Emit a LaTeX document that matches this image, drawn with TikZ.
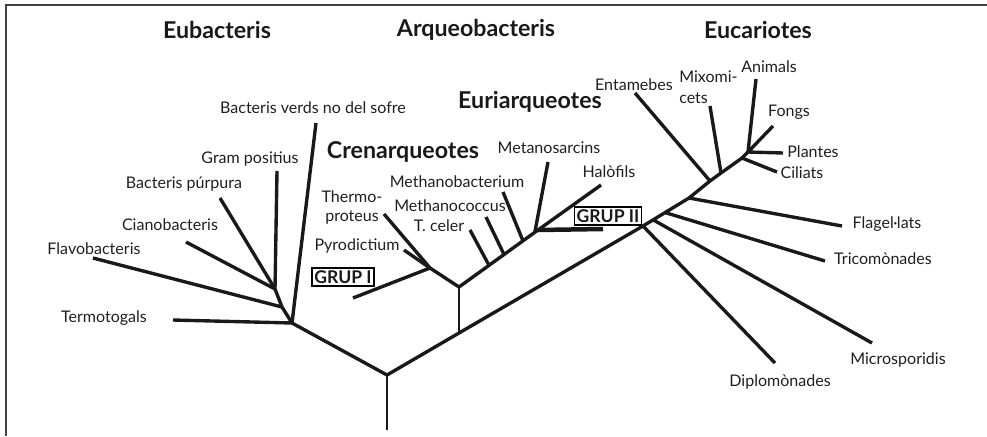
\documentclass[tikz,border=0pt]{standalone}
\usepackage{fontspec}
\setmainfont{Lato}
\usetikzlibrary{calc}

\begin{document}
\begin{tikzpicture}[x=0.025cm,y=-0.025cm,
  lab/.style={font=\fontsize{11.4}{14}\selectfont,text=black!88,inner sep=0pt},
  head/.style={font=\fontsize{16.5}{18}\selectfont\bfseries,text=black!90,inner sep=0pt},
  grp/.style={draw,line width=1.2pt,font=\fontsize{12.5}{13}\selectfont\bfseries,
    text=black!90,inner sep=1.6pt},
  br/.style={line width=2.4pt,black!90},thin br/.style={line width=1.5pt,black!90}]
  \useasboundingbox (0,0) rectangle (987,436);
  % frame
  \draw[line width=1.5pt,black!75] (6,436) -- (6,5) -- (987,5);
  % ---------------- trunk ----------------
  \coordinate (base) at (387,430);
  \coordinate (R) at (387,375);
  \coordinate (E) at (292,323);
  \coordinate (Af) at (459,333);
  \coordinate (A) at (459,287);
  \coordinate (K) at (643,226);
  \draw[thin br] (base) -- (R);
  \draw[br] (E) -- (R) -- (Af) -- (K);
  \draw[thin br] (Af) -- (A);
  % ---------------- eubacteris ----------------
  \coordinate (e1) at (282,307);
  \coordinate (e2) at (275,289);
  \coordinate (termo) at (173,320);
  \coordinate (verds) at (316,123);
  \coordinate (gram) at (277,171);
  \coordinate (purp) at (220,198);
  \coordinate (ciano) at (186,242);
  \coordinate (flavo) at (93,258);
  \draw[br] (E) -- (e1) -- (e2);
  \draw[br] (E) -- (termo);
  \draw[br] (E) -- (verds);
  \draw[br] (e2) -- (gram);
  \draw[br] (e2) -- (purp);
  \draw[br] (e2) -- (ciano);
  \draw[br] (e1) -- (flavo);
  \node[head] (eubac) at (217,30) {Eubacteris};
  \node[lab] (ltermo) at (104,318) {Termotogals};
  \node[lab] (lflavo) at (94,249) {Flavobacteris};
  \node[lab] (lciano) at (170,225) {Cianobacteris};
  \node[lab] (lpurp) at (184,184) {Bacteris púrpura};
  \node[lab] (lgram) at (250,159) {Gram positius};
  \node[lab] (lverds) at (313,108) {Bacteris verds no del sofre};
  % ---------------- arqueobacteris ----------------
  \coordinate (C) at (430,268);
  \coordinate (Y) at (538,230);
  \coordinate (thermo) at (384,214);
  \coordinate (pyro) at (404,250);
  \coordinate (grupi) at (353,298);
  \coordinate (tceler) at (470,230);
  \coordinate (mcoccus) at (486,217);
  \coordinate (mbact) at (503,192);
  \coordinate (msarc) at (548,162);
  \coordinate (halo) at (601,185);
  \coordinate (grupii) at (603,229);
  \draw[br] (A) -- (C) -- (thermo);
  \draw[br] (C) -- (pyro);
  \draw[br] (C) -- (grupi);
  \draw[br] (A) -- (Y) -- (halo);
  \draw[line width=3.2pt,black!90] (Y) -- (grupii);
  \draw[br] ($(A)!0.38!(Y)$) -- (tceler);
  \draw[br] ($(A)!0.57!(Y)$) -- (mcoccus);
  \draw[br] ($(A)!0.81!(Y)$) -- (mbact);
  \draw[br] ($(A)!0.96!(Y)$) -- (msarc);
  \node[head] (arqueo) at (476,30) {Arqueobacteris};
  \node[head] (euri) at (530,102) {Euriarqueotes};
  \node[head] (cren) at (403,152) {Crenarqueotes};
  \node[lab] (lmsarc) at (549,148) {Metanosarcins};
  \node[lab] (lhalo) at (609,172) {Halòfils};
  \node[lab] (lmbact) at (457,182) {Methanobacterium};
  \node[lab,align=center] (lthermo) at (352,207.5) {Thermo-\\proteus};
  \node[lab] (lmcoccus) at (450,206) {Methanococcus};
  \node[lab] (ltceler) at (439,226) {T. celer};
  \node[lab] (lpyro) at (357,246) {Pyrodictium};
  \node[grp] (lgrupi) at (343,277) {GRUP I};
  \node[grp] (lgrupii) at (608,216) {GRUP II};
  % ---------------- eucariotes ----------------
  \coordinate (F) at (689,198);
  \coordinate (N) at (710,181);
  \coordinate (M) at (721,173);
  \coordinate (P) at (742,158);
  \coordinate (Q) at (748,152);
  \coordinate (fongs) at (773,126);
  \coordinate (diplo) at (775,363);
  \coordinate (micro) at (872,343);
  \coordinate (trico) at (825,261);
  \coordinate (flag) at (842,226);
  \coordinate (entam) at (635,93);
  \coordinate (mixo) at (710,106);
  \coordinate (anim) at (756,79);
  \coordinate (plant) at (783,153);
  \coordinate (cil) at (777,172);
  \draw[br] (K) -- (F) -- (N) -- (M) -- (P) -- (Q) -- (fongs);
  \draw[br] (K) -- (diplo);
  \draw[br] ($(K)!0.22!(F)$) -- (micro);
  \draw[br] ($(K)!0.48!(F)$) -- (trico);
  \draw[br] (F) -- (flag);
  \draw[br] (N) -- (entam);
  \draw[br] (M) -- (mixo);
  \draw[br] (Q) -- (anim);
  \draw[br] (Q) -- (plant);
  \draw[br] (P) -- (cil);
  \node[head] (euca) at (758,30) {Eucariotes};
  \node[lab] (lentam) at (634,85) {Entamebes};
  \node[lab,anchor=west,align=left] (lmixo) at (679,87.5) {Mixomi-\\[1pt]cets};
  \node[lab] (lanim) at (769,67) {Animals};
  \node[lab] (lfongs) at (789,112) {Fongs};
  \node[lab] (lplant) at (813,152) {Plantes};
  \node[lab] (lcil) at (802,173) {Ciliats};
  \node[lab] (lflag) at (887,224) {Flagel·lats};
  \node[lab] (ltrico) at (883,259) {Tricomònades};
  \node[lab] (lmicro) at (898,360) {Microsporidis};
  \node[lab] (ldiplo) at (780,382) {Diplomònades};
\end{tikzpicture}
\end{document}
